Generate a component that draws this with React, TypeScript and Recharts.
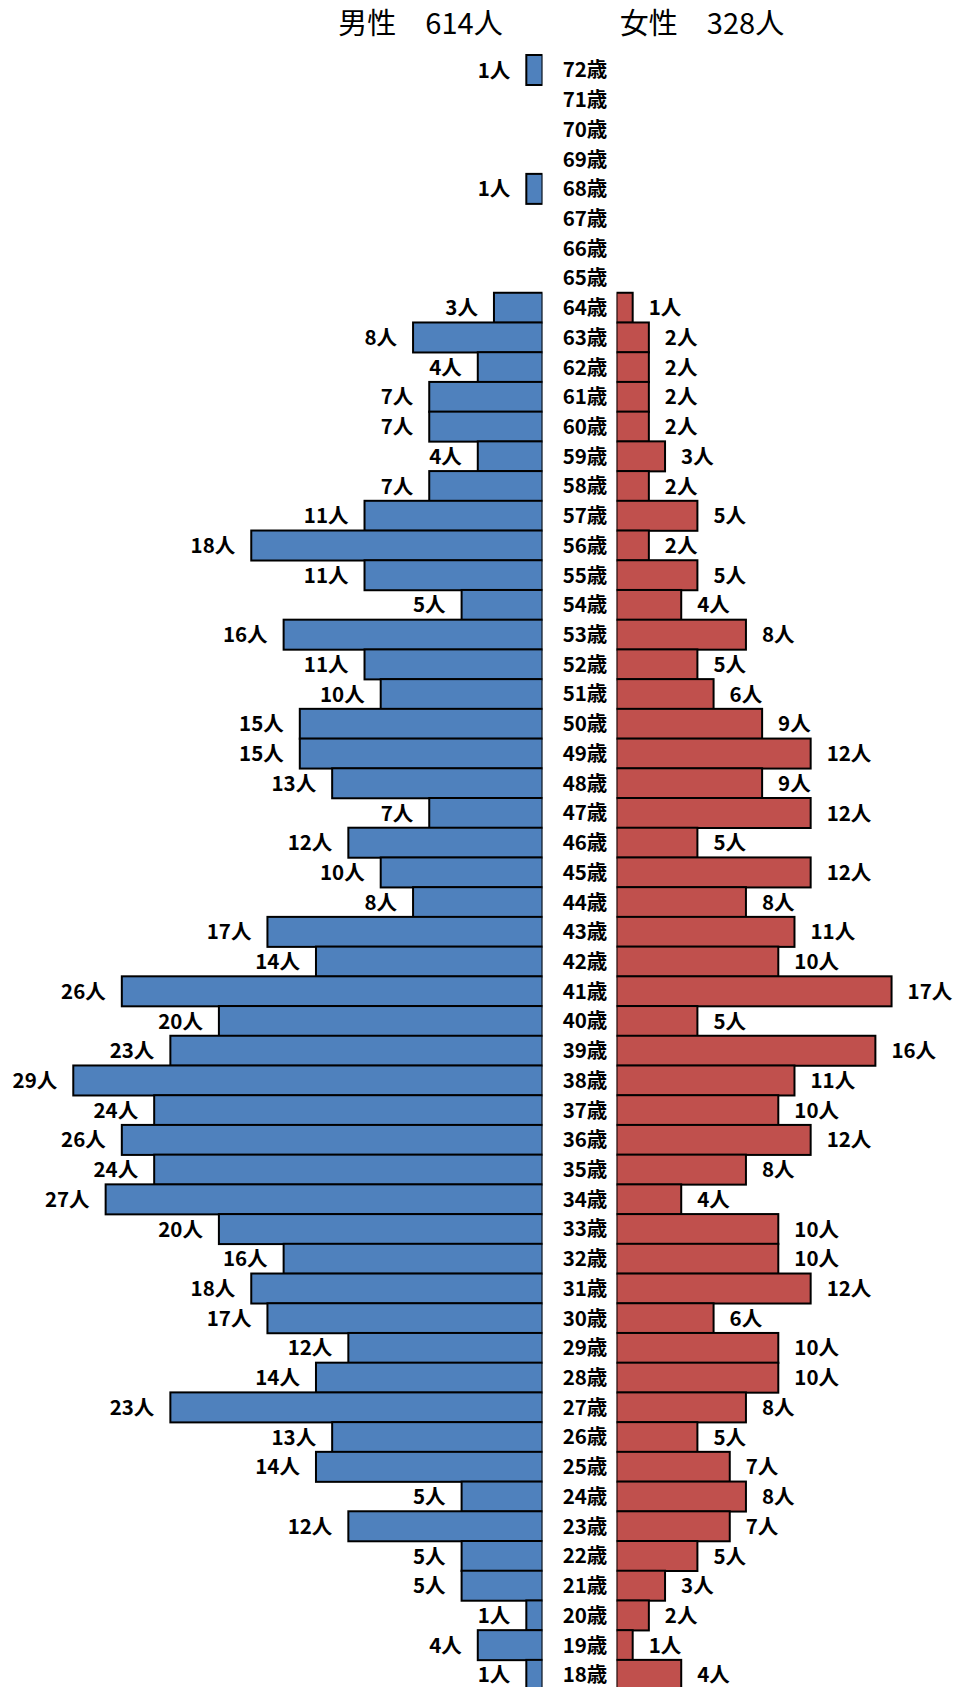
import React from 'react';
import { BarChart, Bar, XAxis, YAxis, LabelList } from 'recharts';

const ages = [
  72, 71, 70, 69, 68, 67, 66, 65, 64, 63, 62, 61, 60, 59, 58, 57, 56, 55, 54,
  53, 52, 51, 50, 49, 48, 47, 46, 45, 44, 43, 42, 41, 40, 39, 38, 37, 36, 35,
  34, 33, 32, 31, 30, 29, 28, 27, 26, 25, 24, 23, 22, 21, 20, 19, 18,
];
const maleCounts = [
  1, 0, 0, 0, 1, 0, 0, 0, 3, 8, 4, 7, 7, 4, 7, 11, 18, 11, 5,
  16, 11, 10, 15, 15, 13, 7, 12, 10, 8, 17, 14, 26, 20, 23, 29, 24, 26, 24,
  27, 20, 16, 18, 17, 12, 14, 23, 13, 14, 5, 12, 5, 5, 1, 4, 1,
];
const femaleCounts = [
  0, 0, 0, 0, 0, 0, 0, 0, 1, 2, 2, 2, 2, 3, 2, 5, 2, 5, 4,
  8, 5, 6, 9, 12, 9, 12, 5, 12, 8, 11, 10, 17, 5, 16, 11, 10, 12, 8,
  4, 10, 10, 12, 6, 10, 10, 8, 5, 7, 8, 7, 5, 3, 2, 1, 4,
];
const maleTitle = '男性\u3000614人';
const femaleTitle = '女性\u3000328人';
const ageSuffix = '歳';
const countSuffix = '人';

const data = ages.map((a, i) => ({
  age: `${a}${ageSuffix}`,
  male: maleCounts[i] > 0 ? maleCounts[i] : null,
  female: femaleCounts[i] > 0 ? femaleCounts[i] : null,
}));

const FONT = "'Noto Sans CJK JP', 'Noto Sans', sans-serif";
const BLUE = '#4F81BD';
const RED = '#C0504D';
const PX_PER_UNIT = 16.18;
const TOP = 55;
const ROW = 29.72;
const PLOT_H = ROW * ages.length;
const CHART_H = Math.ceil(TOP + PLOT_H);
const TEXT_DY = -1.5;

const LEFT_W = 560;
const LEFT_RIGHT_MARGIN = 17.5;
const LEFT_PLOT_W = LEFT_W - LEFT_RIGHT_MARGIN;
const RIGHT_X = 543;
const RIGHT_W = 954 - RIGHT_X;
const RIGHT_AXIS_W = 73.5;
const RIGHT_PLOT_W = RIGHT_W - RIGHT_AXIS_W;

const makeShape = (key: 'male' | 'female', fill: string) => (props: any) => {
  const { x, y, width, height, payload } = props;
  if (!payload || !payload[key]) return null;
  const left = Math.min(x, x + width);
  const w = Math.abs(width);
  const top = Math.min(y, y + height);
  const h = Math.abs(height);
  return <rect x={left} y={top} width={w} height={h} fill={fill} stroke="#000" strokeWidth={2} />;
};

const labelStyle = { fontFamily: FONT, fontWeight: 700, fontSize: 20.5, fill: '#000' };

const makeLabel = (side: 'left' | 'right') => (props: any) => {
  const { x, y, width, height, value } = props;
  if (value === null || value === undefined || value === 0) return null;
  const v = Array.isArray(value) ? value[1] : value;
  if (!v) return null;
  const left = Math.min(Number(x), Number(x) + Number(width));
  const right = Math.max(Number(x), Number(x) + Number(width));
  const cy = Number(y) + Number(height) / 2 + TEXT_DY;
  if (side === 'left') {
    return (
      <text x={left - 16} y={cy} textAnchor="end" dominantBaseline="central" style={labelStyle}>
        {`${v}${countSuffix}`}
      </text>
    );
  }
  return (
    <text x={right + 16} y={cy} textAnchor="start" dominantBaseline="central" style={labelStyle}>
      {`${v}${countSuffix}`}
    </text>
  );
};

const AgeTick = (props: any) => {
  const { y, payload } = props;
  return (
    <text x={585 - RIGHT_X} y={Number(y) + TEXT_DY} textAnchor="middle" dominantBaseline="central" style={labelStyle}>
      {payload.value}
    </text>
  );
};

const titleStyle: React.CSSProperties = {
  position: 'absolute',
  top: 0,
  height: 42,
  lineHeight: '42px',
  fontFamily: FONT,
  fontSize: 29,
  fontWeight: 400,
  color: '#000',
  whiteSpace: 'pre',
  transform: 'translateX(-50%)',
};

export default function App() {
  return (
    <div
      style={{
        position: 'absolute',
        left: 0,
        top: 0,
        width: 954,
        height: 1687,
        overflow: 'hidden',
        background: '#fff',
      }}
    >
      <div style={{ ...titleStyle, left: 420.5 }}>{maleTitle}</div>
      <div style={{ ...titleStyle, left: 702 }}>{femaleTitle}</div>

      <div style={{ position: 'absolute', left: 0, top: 0 }}>
        <BarChart
          width={LEFT_W}
          height={CHART_H}
          data={data}
          layout="vertical"
          barCategoryGap={0}
          margin={{ top: TOP, right: LEFT_RIGHT_MARGIN, bottom: CHART_H - TOP - PLOT_H, left: 0 }}
        >
          <XAxis type="number" domain={[0, LEFT_PLOT_W / PX_PER_UNIT]} reversed hide allowDataOverflow />
          <YAxis type="category" dataKey="age" hide />
          <Bar dataKey="male" isAnimationActive={false} shape={makeShape('male', BLUE)}>
            <LabelList dataKey="male" content={makeLabel('left')} />
          </Bar>
        </BarChart>
      </div>

      <div style={{ position: 'absolute', left: RIGHT_X, top: 0 }}>
        <BarChart
          width={RIGHT_W}
          height={CHART_H}
          data={data}
          layout="vertical"
          barCategoryGap={0}
          margin={{ top: TOP, right: 0, bottom: CHART_H - TOP - PLOT_H, left: 0 }}
        >
          <XAxis type="number" domain={[0, RIGHT_PLOT_W / PX_PER_UNIT]} hide allowDataOverflow />
          <YAxis
            type="category"
            dataKey="age"
            width={RIGHT_AXIS_W}
            axisLine={false}
            tickLine={false}
            interval={0}
            tick={<AgeTick />}
          />
          <Bar dataKey="female" isAnimationActive={false} shape={makeShape('female', RED)}>
            <LabelList dataKey="female" content={makeLabel('right')} />
          </Bar>
        </BarChart>
      </div>
    </div>
  );
}
